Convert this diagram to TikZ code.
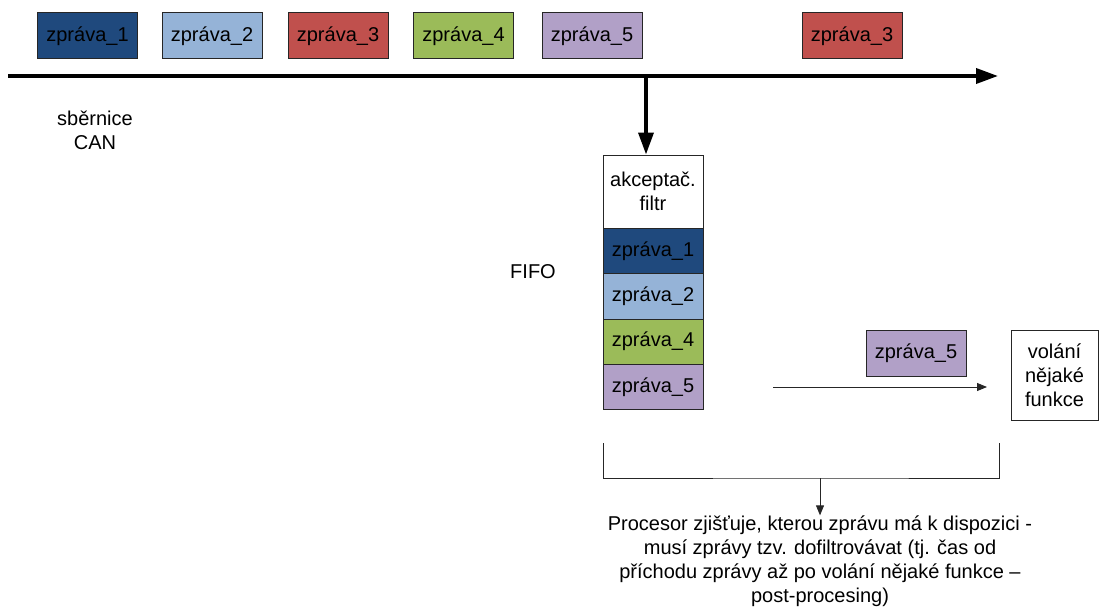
\documentclass[tikz,border=0pt]{standalone}
\usepackage{fontspec}
\setmainfont{Liberation Sans}
\usetikzlibrary{arrows.meta}
\definecolor{cdblue}{HTML}{1F497D}
\definecolor{clblue}{HTML}{95B3D7}
\definecolor{cred}{HTML}{C0504D}
\definecolor{cgreen}{HTML}{9BBB59}
\definecolor{cpurple}{HTML}{B1A0C7}
\definecolor{cedge}{HTML}{262626}
\begin{document}
\begin{tikzpicture}[x=1pt,y=-1pt,
  every node/.style={font=\fontsize{20}{24}\selectfont},
  msg/.style={draw=cedge,line width=1pt,minimum width=100pt,minimum height=46pt,inner sep=0pt,anchor=center},
  stk/.style={draw=cedge,line width=1pt,minimum width=100pt,text width=100pt,align=center,inner sep=0pt,anchor=center},
  lbl/.style={align=center,inner sep=0pt},
  bus/.style={line width=3.6pt,-{Triangle[length=22pt,width=15pt]}},
  thin/.style={line width=0.9pt,draw=cedge,-{Triangle[length=10pt,width=8pt]}},
  brk/.style={line width=0.9pt,draw=cedge}
]
\useasboundingbox (0,0) rectangle (1099,607);
% top messages
\node[msg,fill=cdblue] (m1) at (87.5,36) {zpráva\_1};
\node[msg,fill=clblue] (m2) at (212,36) {zpráva\_2};
\node[msg,fill=cred] (m3) at (338,36) {zpráva\_3};
\node[msg,fill=cgreen] (m4) at (463.5,36) {zpráva\_4};
\node[msg,fill=cpurple] (m5) at (592,36) {zpráva\_5};
\node[msg,fill=cred] (m3b) at (852,36) {zpráva\_3};
% bus
\coordinate (busL) at (8,76);
\coordinate (busR) at (998,76);
\coordinate (tap) at (646,76);
\draw[bus] (busL) -- (busR);
\node[lbl] (can) at (95,130) {sběrnice\\CAN};
% stack
\node[stk,fill=white,minimum height=73pt] (filtr) at (653,191.5) {akceptač.\\filtr};
\node[stk,fill=cdblue,minimum height=45.5pt] (s1) at (653,250.75) {zpráva\_1};
\node[stk,fill=clblue,minimum height=45.5pt] (s2) at (653,296.25) {zpráva\_2};
\node[stk,fill=cgreen,minimum height=45pt] (s4) at (653,341.5) {zpráva\_4};
\node[stk,fill=cpurple,minimum height=45.5pt] (s5) at (653,386.75) {zpráva\_5};
\draw[bus] (tap) -- (tap |- filtr.north);
\node[lbl] (fifo) at (533,272) {FIFO};
% right side
\node[msg,fill=cpurple] (r5) at (916,353) {zpráva\_5};
\node[draw=cedge,line width=1pt,minimum width=87pt,minimum height=90pt,inner sep=0pt,align=center] (fn) at (1054.5,375) {volání\\nějaké\\funkce};
\coordinate (a1) at (773,387);
\coordinate (a2) at (987,387);
\draw[thin] (a1) -- (a2);
% bracket
\coordinate (bL) at (603,443);
\coordinate (bR) at (999,443);
\coordinate (bM) at (820,478);
\draw[brk] (bL) |- (bM) -| (bR);
\node[lbl,anchor=center] (txt) at (820,561) {Procesor zjišťuje, kterou zprávu má k dispozici -\\musí zprávy tzv. dofiltrovávat (tj. čas od\\příchodu zprávy až po volání nějaké funkce –\\post-procesing)};
\draw[thin] (bM) -- (txt.north);
\end{tikzpicture}
\end{document}
